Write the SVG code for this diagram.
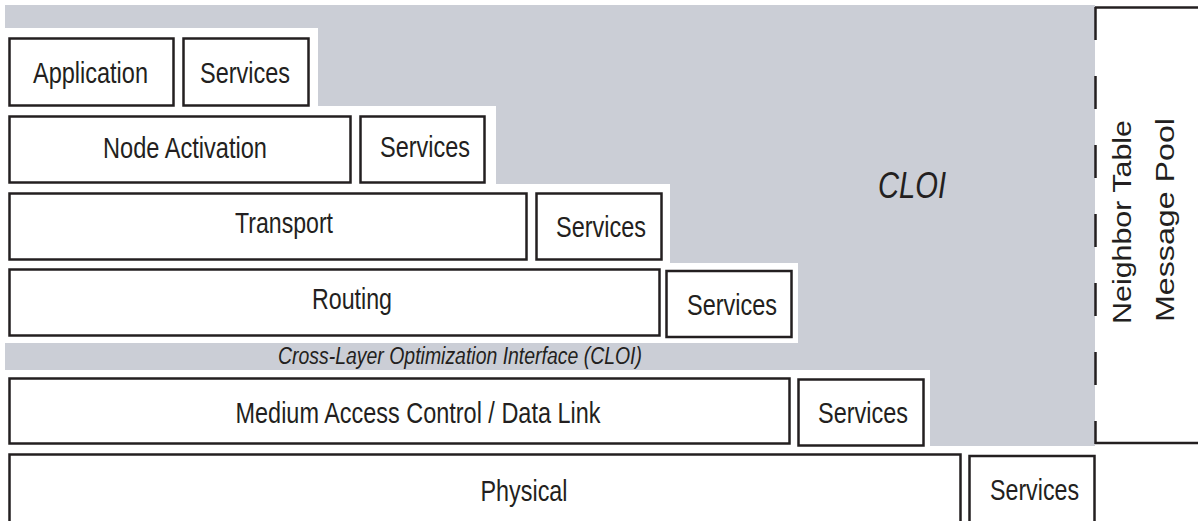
<svg xmlns="http://www.w3.org/2000/svg" width="1198" height="521" viewBox="0 0 1198 521">
  <style>
    .box { fill: #ffffff; stroke: #231f20; stroke-width: 2.5; }
    .lbl { font-family: "Liberation Sans", Arial, sans-serif; font-size: 29.5px; fill: #231f20; text-anchor: middle; }
    .it { font-family: "Liberation Sans", Arial, sans-serif; font-style: italic; fill: #231f20; }
    .vt { font-family: "Liberation Sans", Arial, sans-serif; font-size: 30px; fill: #231f20; text-anchor: middle; }
    .gray { fill: #cbced6; }
    .white { fill: #ffffff; }
  </style>

  <g id="background">
    <rect class="gray" x="5" y="5" width="1090" height="441"/>
    <rect class="white" x="0" y="28" width="318" height="79"/>
    <rect class="white" x="0" y="106" width="496" height="79"/>
    <rect class="white" x="0" y="184" width="670" height="79"/>
    <rect class="white" x="0" y="263" width="798" height="80"/>
    <rect class="white" x="0" y="370" width="930" height="77"/>
    <text class="it" x="878" y="198" font-size="36" textLength="68" lengthAdjust="spacingAndGlyphs">CLOI</text>
    <text class="it" x="278" y="364" font-size="23" textLength="364" lengthAdjust="spacingAndGlyphs">Cross-Layer Optimization Interface (CLOI)</text>
  </g>

  <g id="connectors"></g>

  <g id="application">
    <rect class="box" x="9.5" y="38.5" width="164" height="67"/>
    <text class="lbl" x="90.5" y="82.5" textLength="115" lengthAdjust="spacingAndGlyphs">Application</text>
  </g>
  <g id="services-application">
    <rect class="box" x="183.5" y="38.5" width="125" height="67"/>
    <text class="lbl" x="245" y="82.5" textLength="90" lengthAdjust="spacingAndGlyphs">Services</text>
  </g>

  <g id="node-activation">
    <rect class="box" x="9.5" y="116.5" width="341" height="66"/>
    <text class="lbl" x="185" y="158" textLength="164" lengthAdjust="spacingAndGlyphs">Node Activation</text>
  </g>
  <g id="services-node-activation">
    <rect class="box" x="360.5" y="116.5" width="124" height="66"/>
    <text class="lbl" x="425" y="157" textLength="90" lengthAdjust="spacingAndGlyphs">Services</text>
  </g>

  <g id="transport">
    <rect class="box" x="9.5" y="193.5" width="517" height="66"/>
    <text class="lbl" x="284" y="233" textLength="98" lengthAdjust="spacingAndGlyphs">Transport</text>
  </g>
  <g id="services-transport">
    <rect class="box" x="536.5" y="193.5" width="125" height="66"/>
    <text class="lbl" x="601" y="237" textLength="90" lengthAdjust="spacingAndGlyphs">Services</text>
  </g>

  <g id="routing">
    <rect class="box" x="9.5" y="269.5" width="650" height="66"/>
    <text class="lbl" x="352" y="309" textLength="80" lengthAdjust="spacingAndGlyphs">Routing</text>
  </g>
  <g id="services-routing">
    <rect class="box" x="666.5" y="271" width="125" height="66"/>
    <text class="lbl" x="732" y="315" textLength="90" lengthAdjust="spacingAndGlyphs">Services</text>
  </g>

  <g id="mac">
    <rect class="box" x="9.5" y="378.5" width="780" height="65"/>
    <text class="lbl" x="418" y="423" textLength="365" lengthAdjust="spacingAndGlyphs">Medium Access Control / Data Link</text>
  </g>
  <g id="services-mac">
    <rect class="box" x="798.5" y="379.5" width="125" height="66"/>
    <text class="lbl" x="863" y="423" textLength="90" lengthAdjust="spacingAndGlyphs">Services</text>
  </g>

  <g id="physical">
    <rect class="box" x="9.5" y="454.5" width="951" height="80"/>
    <text class="lbl" x="524" y="501" textLength="87" lengthAdjust="spacingAndGlyphs">Physical</text>
  </g>
  <g id="services-physical">
    <rect class="box" x="969.5" y="456" width="125" height="80"/>
    <text class="lbl" x="1034.5" y="500" textLength="89" lengthAdjust="spacingAndGlyphs">Services</text>
  </g>

  <g id="neighbor-table-message-pool">
    <rect x="1095" y="7" width="110" height="436" fill="#ffffff"/>
    <line x1="1095" y1="7.5" x2="1198" y2="7.5" stroke="#231f20" stroke-width="2.5"/>
    <line x1="1095" y1="443" x2="1198" y2="443" stroke="#231f20" stroke-width="2.5"/>
    <line x1="1095.5" y1="7" x2="1095.5" y2="444" stroke="#231f20" stroke-width="2.5" stroke-dasharray="33 36"/>
    <text class="vt" transform="translate(1131,222) rotate(-90) scale(1,0.835)" textLength="204" lengthAdjust="spacingAndGlyphs">Neighbor Table</text>
    <text class="vt" transform="translate(1174,220) rotate(-90) scale(1,0.835)" textLength="204" lengthAdjust="spacingAndGlyphs">Message Pool</text>
  </g>
</svg>
